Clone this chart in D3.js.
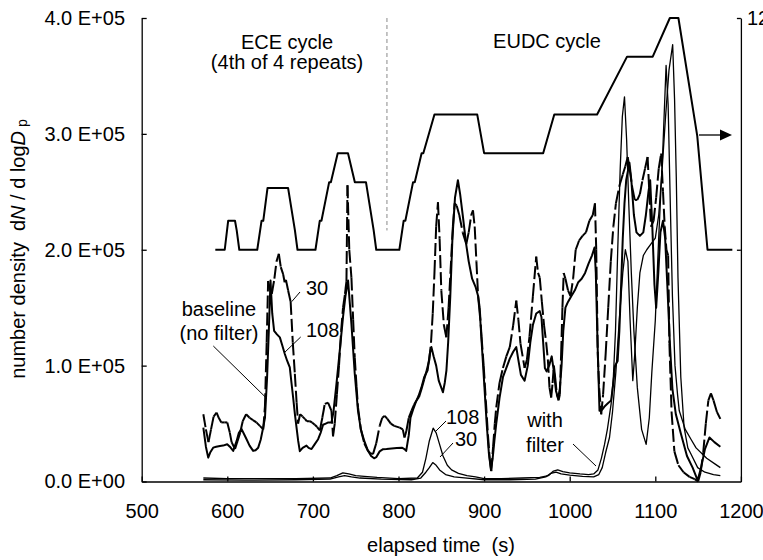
<!DOCTYPE html>
<html><head><meta charset="utf-8">
<script src="https://cdn.jsdelivr.net/npm/d3@7"></script>
<style>
body{margin:0;background:#fff;}
svg{display:block;font-family:"Liberation Sans",Arial,sans-serif;}
text{white-space:pre;}
</style></head>
<body><svg id="c" width="763" height="560"></svg>
<script>
// ---------- data (values of number density in units of 1E+05) ----------
const xTicks = [500,600,700,800,900,1000,1100,1200];
const yTicks = [0,1e5,2e5,3e5,4e5];
const yTickLabels = ["0.0 E+00","1.0 E+05","2.0 E+05","3.0 E+05","4.0 E+05"];

// vehicle speed (km/h), ECE (4th repeat) + EUDC
const speedProfile = [[586,0],[597,0],[601,15],[609,15],[611,10],[614,0],[635,0],[640,15],[642,15],[647,32],[671,32],[679,10],[682,0],[703,0],[708,15],[710,15],[719,35],[721,35],[729,50],[741,50],[749,35],[762,35],[771,10],[774,0],[781,0],[801,0],[806,15],[808,15],[817,35],[819,35],[827,50],[829,50],[842,70],[892,70],[900,50],[969,50],[982,70],[1032,70],[1067,100],[1097,100],[1117,120],[1127,120],[1149,59],[1161,0],[1190,0]];

// baseline (no filter), 30 nm
const base30 = [[572,0.58],[575,0.45],[578,0.34],[581,0.45],[584,0.56],[587.5,0.595],[590,0.55],[593,0.51],[597,0.51],[600,0.51],[603,0.42],[605,0.34],[609,0.28],[612,0.35],[615,0.42],[618,0.52],[622,0.58],[626,0.55],[630,0.53],[634,0.51],[638,0.48],[642,0.45],[644,0.65],[646,1.2],[647.7,1.73],[650,1.65],[652,1.62],[655,1.75],[657.5,1.9],[660.2,1.965],[662.5,1.85],[665.2,1.79],[667,1.72],[668.5,1.74],[671,1.65],[674,1.55],[676.5,1.2],[678.9,0.93],[681,0.68],[682.7,0.5],[685,0.58],[688,0.56],[690.6,0.54],[693,0.52],[696.4,0.52],[699,0.51],[702.2,0.49],[705,0.47],[708.1,0.44],[711,0.55],[713.9,0.67],[717.7,0.68],[721.7,0.61],[723.5,0.39],[725.5,0.5],[728,0.75],[730.5,1.0],[733,1.3],[735.2,1.5],[737.5,1.62],[739.2,1.73],[740.4,2.556],[742.5,2.0],[745,1.76],[747,1.4],[748.9,1.07],[751,0.82],[752.7,0.64],[756,0.45],[760,0.33],[764,0.27],[767,0.245],[770.2,0.236],[774,0.33],[778,0.48],[781,0.55],[783.9,0.566],[787,0.54],[791,0.5],[795,0.48],[801.4,0.465],[805,0.45],[807,0.38],[809.2,0.436],[812,0.55],[815.1,0.61],[818,0.66],[821,0.70],[824,0.73],[827,0.8],[830,0.88],[833,0.96],[836,1.05],[838,1.2],[840,1.45],[842,1.8],[844,2.2],[846.1,2.41],[848,2.1],[850,1.65],[853,1.35],[855.9,1.245],[858.5,1.5],[861.7,1.94],[863.5,2.2],[865.6,2.40],[868,2.38],[871,2.3],[875,2.15],[879.2,2.05],[882,2.15],[885,2.3],[887,2.34],[889,2.2],[891,1.9],[893,1.6],[894.8,1.5],[897,1.25],[899.5,1.0],[902,0.7],[904.5,0.4],[906.5,0.2],[908.4,0.09],[910.5,0.3],[912.5,0.5],[914.2,0.64],[918,0.85],[922,0.98],[926,1.08],[930,1.16],[934,1.35],[937.6,1.56],[940,1.4],[942.5,1.19],[947.3,0.98],[950,1.05],[953,1.25],[957,1.6],[960.9,1.94],[963,1.8],[965,1.76],[967.5,1.55],[970,1.35],[972.5,1.2],[974.5,1.05],[976.4,0.81],[978.4,0.725],[980,0.85],[981.5,1.0],[983,0.9],[985,0.75],[987,0.7],[988.5,0.75],[990,1.1],[991.5,1.5],[993,1.8],[995,1.75],[998,1.65],[1001,1.6],[1004,1.75],[1007,2.0],[1011,2.08],[1015,2.12],[1019,2.15],[1023,2.25],[1027,2.3],[1029.5,2.4],[1031,2.0],[1032.8,1.1],[1034.5,0.8],[1036.8,0.58],[1039,0.75],[1042,1.1],[1045,1.5],[1048,1.9],[1051,2.2],[1054,2.4],[1058,2.55],[1062,2.65],[1065,2.72],[1067.8,2.80],[1070,2.7],[1073,2.54],[1076,2.43],[1079,2.43],[1082,2.48],[1085,2.6],[1088,2.7],[1091,2.80],[1093,2.5],[1095,2.2],[1098,2.25],[1101,2.45],[1104,2.7],[1106.8,2.83],[1109,2.5],[1111,2.2],[1113,2.0],[1115,1.95],[1116.5,1.19],[1119,0.6],[1122.3,0.26],[1127,0.14],[1133,0.08],[1140,0.04],[1146,0.02],[1150,0.0],[1153,0.08],[1156,0.25],[1159,0.5],[1162,0.7],[1165,0.76],[1168,0.7],[1172,0.6],[1176,0.54]];

// baseline (no filter), 108 nm
const base108 = [[572,0.465],[575,0.3],[577.7,0.206],[580,0.25],[583.5,0.292],[587,0.30],[591.4,0.307],[595,0.31],[599.9,0.322],[603,0.3],[606.9,0.264],[610.9,0.35],[613.5,0.42],[616.7,0.452],[619.5,0.41],[622.5,0.365],[626,0.31],[630.2,0.264],[633,0.27],[636.1,0.292],[639,0.36],[641.9,0.465],[644,0.55],[646.5,0.9],[648.5,1.3],[650.5,1.734],[652.5,1.45],[654.7,1.30],[658,1.27],[661.4,1.244],[664,1.18],[667.2,1.10],[670,1.04],[673,0.984],[675,0.85],[676.9,0.725],[679,0.58],[680.9,0.465],[682.8,0.35],[684.7,0.262],[688,0.29],[692.5,0.31],[695,0.29],[698.4,0.28],[702,0.32],[706.1,0.365],[709,0.42],[711.9,0.49],[715,0.5],[718,0.51],[721.7,0.51],[724,0.6],[727.5,0.84],[731,1.1],[735.2,1.42],[738,1.6],[741.1,1.734],[743,1.55],[745,1.36],[748.9,0.93],[752.7,0.61],[756,0.45],[760,0.35],[764,0.27],[768,0.22],[771.5,0.2],[774,0.21],[778,0.26],[782,0.279],[786,0.28],[792,0.285],[798,0.29],[804,0.292],[807,0.28],[809,0.264],[812,0.4],[814,0.55],[817,0.62],[820,0.68],[823.5,0.74],[826.7,0.81],[830,0.90],[834,0.96],[836.5,1.1],[838.4,1.16],[841,1.08],[844,1.0],[847,0.87],[851.9,0.77],[854,0.85],[856,0.96],[858,1.2],[860.5,1.6],[863,2.1],[866,2.45],[869.4,2.60],[872,2.48],[875,2.3],[879,2.05],[882,1.9],[886,1.75],[890,1.68],[893,1.6],[895.5,1.4],[898,1.1],[900.5,0.8],[903,0.5],[905.5,0.25],[908,0.1],[910,0.2],[912,0.35],[914.2,0.5],[918,0.72],[922,0.90],[926,0.98],[930,1.06],[934,1.12],[937.6,1.16],[940,1.05],[943,0.92],[947.3,0.87],[951,1.0],[954,1.2],[957,1.35],[960.9,1.45],[965,1.47],[967,1.42],[969,1.2],[971,0.98],[973,0.95],[976,1.0],[979,1.08],[981.5,0.95],[984,0.78],[986.5,0.72],[988.5,0.8],[990.5,1.0],[992.5,1.3],[995,1.5],[998,1.55],[1002,1.6],[1006,1.65],[1010,1.72],[1014,1.75],[1018,1.8],[1022,1.88],[1026,1.95],[1029,2.02],[1030.5,1.8],[1032.5,1.2],[1034.8,0.61],[1038,0.62],[1041,0.65],[1044,0.67],[1048.4,0.7],[1051,0.85],[1053,1.0],[1056,1.04],[1058,1.3],[1060,1.68],[1062,2.1],[1064,2.4],[1066,2.6],[1069.8,2.75],[1072,2.6],[1075,2.3],[1078,2.15],[1082,2.12],[1086,2.15],[1089,2.3],[1092,2.5],[1094,2.6],[1096.5,2.2],[1099,1.7],[1101,1.5],[1103.5,1.8],[1106,2.15],[1109,2.25],[1111.5,2.1],[1114,1.7],[1117,1.2],[1120,0.8],[1124,0.58],[1130,0.41],[1137,0.22],[1143.6,0.12],[1149.5,0.01],[1153.5,0.12],[1158,0.28],[1163.3,0.38],[1169,0.34],[1176,0.30]];

// with filter, 108 nm
const filt108 = [[572,0.03],[600,0.025],[640,0.025],[680,0.025],[720,0.03],[728,0.05],[735,0.075],[742,0.065],[750,0.05],[760,0.045],[775,0.035],[800,0.025],[822,0.03],[828,0.08],[832,0.2],[836,0.35],[840.5,0.46],[844,0.42],[848,0.32],[852,0.22],[857,0.14],[862,0.1],[870,0.07],[880,0.05],[890,0.04],[900,0.025],[920,0.025],[945,0.03],[965,0.035],[975,0.05],[981,0.09],[986,0.1],[992,0.085],[1000,0.075],[1012,0.065],[1022,0.06],[1028,0.065],[1033,0.1],[1037,0.2],[1040.7,0.32],[1044,0.45],[1048.4,0.67],[1051,0.9],[1053.5,1.3],[1056,1.97],[1059,2.7],[1061.5,3.15],[1064,3.32],[1066.5,2.95],[1069,2.4],[1072,1.8],[1075,1.3],[1079,0.81],[1084,0.45],[1089.3,0.32],[1093,0.55],[1096,0.95],[1100,1.39],[1104,2.11],[1108.6,2.83],[1112.6,3.59],[1115,3.25],[1117.5,2.4],[1120,1.6],[1123,1.0],[1126,0.75],[1128,0.61],[1135,0.45],[1142,0.36],[1147.6,0.29],[1160,0.2],[1170,0.15],[1176,0.12]];

// with filter, 30 nm
const filt30 = [[572,0.015],[620,0.012],[680,0.015],[720,0.02],[730,0.04],[737,0.05],[745,0.04],[755,0.03],[780,0.02],[815,0.015],[826,0.03],[832,0.08],[836,0.12],[840,0.163],[844,0.14],[848,0.1],[855,0.06],[865,0.04],[880,0.03],[900,0.015],[930,0.015],[960,0.02],[972,0.04],[978,0.07],[984,0.08],[990,0.065],[1000,0.055],[1015,0.045],[1028,0.04],[1034,0.06],[1038,0.12],[1042,0.25],[1046.5,0.38],[1050,0.6],[1054,0.95],[1058,1.4],[1062,1.8],[1065,2.0],[1068,1.9],[1070.5,1.4],[1073.7,0.87],[1076,1.1],[1079,1.5],[1082,1.8],[1086,1.95],[1090,2.0],[1095,2.05],[1100,2.1],[1104,2.3],[1108,2.7],[1112,3.15],[1116,3.55],[1120.3,3.77],[1122.5,3.3],[1124.5,2.63],[1126.5,1.76],[1129.8,0.9],[1133.6,0.47],[1138,0.29],[1141.8,0.235],[1149.5,0.12],[1158,0.08],[1168,0.06],[1176,0.05]];

const cycleBoundary = 786.5;

// ---------- drawing ----------
const svg = d3.select("#c");
const FS = 20;
const x = d3.scaleLinear().domain([500,1200]).range([141.7,740.9]);
const y = d3.scaleLinear().domain([0,4e5]).range([481.5,18]);
const ySpeed = d3.scaleLinear().domain([-120,120]).range([481.5,18]);
const U = 1e5;

// axes
const gl = svg.append("g").attr("transform",`translate(${x(500)},0)`)
  .call(d3.axisLeft(y).tickValues(yTicks).tickSizeInner(-5).tickSizeOuter(0).tickPadding(16.7)
    .tickFormat((d,i)=>yTickLabels[i]));
const gb = svg.append("g").attr("transform",`translate(0,${y(0)})`)
  .call(d3.axisBottom(x).tickValues(xTicks).tickSizeInner(-5).tickSizeOuter(0).tickPadding(22.3)
    .tickFormat(d3.format("d")));
const gr = svg.append("g").attr("transform",`translate(${x(1200)},0)`)
  .call(d3.axisRight(ySpeed).tickValues([0,120]).tickSizeInner(-4).tickSizeOuter(0).tickPadding(6)
    .tickFormat(d=> d===120 ? "120" : ""));
[gl,gb,gr].forEach(g=>{
  g.selectAll("text").attr("font-size",FS).attr("font-family","Liberation Sans, Arial, sans-serif").attr("fill","#000");
  g.selectAll("path,line").attr("stroke","#000").attr("stroke-width",1.3);
});

// cycle boundary
svg.append("line").attr("x1",x(cycleBoundary)).attr("x2",x(cycleBoundary))
  .attr("y1",y(4e5)).attr("y2",ySpeed(10)).attr("stroke","#8a8a8a").attr("stroke-width",1).attr("stroke-dasharray","4,3");

// speed trace
const lineS = d3.line().x(d=>x(d[0])).y(d=>ySpeed(d[1]));
svg.append("path").datum(speedProfile).attr("d",lineS).attr("fill","none").attr("stroke","#000").attr("stroke-width",2).attr("stroke-linejoin","round");

const lineN = d3.line().x(d=>x(d[0])).y(d=>y(d[1]*U));
function solid(data, w){
  svg.append("path").datum(data).attr("d",lineN).attr("fill","none").attr("stroke","#000")
    .attr("stroke-width",w).attr("stroke-linejoin","round");
}
solid(filt30,1.3);
solid(filt108,1.3);
solid(base108,2);
// dashed series: dash pattern restarts at each data point (spreadsheet style)
svg.append("g").selectAll("path").data(d3.pairs(base30)).join("path")
  .attr("d",d=>lineN(d)).attr("fill","none").attr("stroke","#000").attr("stroke-width",2)
  .attr("stroke-dasharray","13,4");

// texts
function txt(xp, yp, s, anchor){
  return svg.append("text").attr("x",xp).attr("y",yp).attr("text-anchor",anchor||"start")
    .attr("font-size",FS).attr("fill","#000").text(s);
}
txt(287,49,"ECE cycle","middle");
txt(287,69,"(4th of 4 repeats)","middle");
txt(547,48,"EUDC cycle","middle");
txt(219,316,"baseline","middle");
txt(219,340,"(no filter)","middle");
txt(306,295,"30");
txt(306,337,"108");
txt(446,424,"108");
txt(455,446,"30");
txt(545,427,"with","middle");
txt(545,452,"filter","middle");
txt(441,552,"elapsed time  (s)","middle");

// y title
const yt = svg.append("text").attr("transform","translate(25,249) rotate(-90)").attr("text-anchor","middle")
  .attr("font-size",FS).attr("fill","#000");
yt.append("tspan").text("number density  d");
yt.append("tspan").attr("font-style","italic").text("N");
yt.append("tspan").text(" / d log");
yt.append("tspan").attr("font-style","italic").text("D");
yt.append("tspan").attr("font-size",14).attr("dx",4).attr("dy",2).text("p");

// leader lines
const leaders = [[300,292,291.7,301.7],[300.7,337,284,353],[213.3,346,265,396.7],[446,421,435,432],[453,443,440,457],[573,444,596,466]];
svg.append("g").selectAll("line").data(leaders).join("line")
  .attr("x1",d=>d[0]).attr("y1",d=>d[1]).attr("x2",d=>d[2]).attr("y2",d=>d[3])
  .attr("stroke","#000").attr("stroke-width",1);

// arrow to right axis
svg.append("line").attr("x1",699).attr("y1",135).attr("x2",721).attr("y2",135).attr("stroke","#000").attr("stroke-width",1.3);
svg.append("path").attr("d","M720,129.5L732,135L720,140.5Z").attr("fill","#000");
</script></body></html>
